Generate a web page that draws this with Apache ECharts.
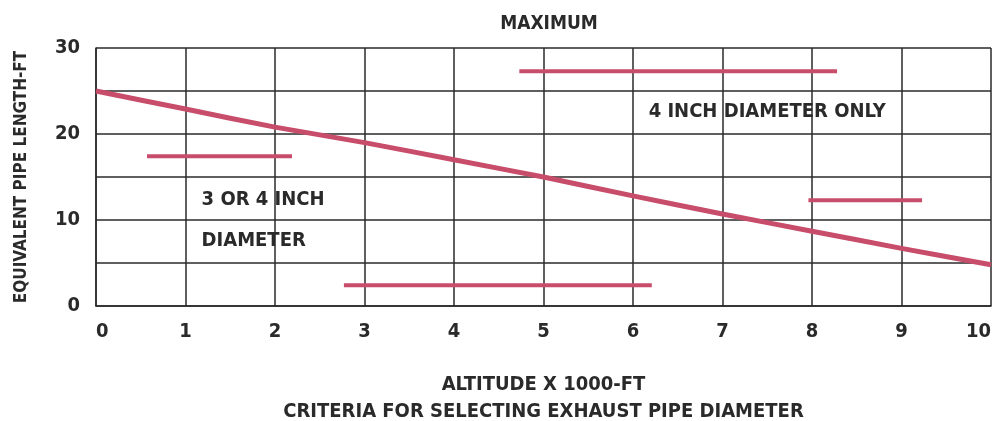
<!DOCTYPE html>
<html>
<head>
<meta charset="utf-8">
<script src="https://cdn.jsdelivr.net/npm/echarts@6/dist/echarts.min.js"></script>
<style>
html,body{margin:0;padding:0;background:#fff;}
#c{width:992px;height:421px;}
</style>
</head>
<body>
<div id="c"></div>
<script>
// Altitude (x1000 ft) tick values
var xTicks = [0,1,2,3,4,5,6,7,8,9,10];
// Maximum equivalent pipe length curve (grid units, row = 5)
var maxLine = [25.0, 22.9, 20.8, 19.0, 17.0, 15.0, 12.8, 10.7, 8.7, 6.7, 4.8];
// Horizontal bars: [xStart, xEnd, y]
var bar1 = [0.57, 2.19, 17.4];
var bar2 = [2.77, 6.21, 2.4];
var bar3 = [4.73, 8.28, 27.3];
var bar4 = [7.96, 9.23, 12.3];
// Annotations: [x, y, text, align]
var notes = [
  [7.5, 22.6, '4 INCH DIAMETER ONLY', 'center'],
  [1.18, 12.3, '3 OR 4 INCH', 'left'],
  [1.18, 7.6, 'DIAMETER', 'left']
];
var titleText = 'MAXIMUM';
var xName = 'ALTITUDE X 1000-FT\nCRITERIA FOR SELECTING EXHAUST PIPE DIAMETER';
var yName = 'EQUIVALENT PIPE LENGTH-FT';

var FONT = '"DejaVu Sans Condensed","Liberation Sans Narrow",sans-serif';
var RED = '#c84d6b';
var INK = '#2a2a2a';

function seg(b){ return [[b[0], b[2]], [b[1], b[2]]]; }

var chart = echarts.init(document.getElementById('c'));
var series = [{
  type: 'line',
  data: xTicks.map(function(x,i){ return [x, maxLine[i]]; }),
  symbol: 'none',
  smooth: 0.2,
  lineStyle: {color: RED, width: 5},
  z: 3
}];
[bar1, bar2, bar3, bar4].forEach(function(b){
  series.push({type:'line', data: seg(b), symbol:'none', lineStyle:{color: RED, width: 4}, z: 3});
});
series.push({
  type: 'scatter',
  symbolSize: 0,
  silent: true,
  data: notes.map(function(n){ return {value:[n[0], n[1]], label:{show:true, formatter:n[2], position: n[3]==='left' ? 'right' : 'inside', distance: 0, align: n[3]}}; }),
  label: {color: INK, fontFamily: FONT, fontWeight: 'bold', fontSize: 20, opacity: 1},
  itemStyle: {opacity: 1},
  z: 4
});

chart.setOption({
  animation: false,
  backgroundColor: '#fff',
  title: {
    text: titleText, left: 544, top: 10, textAlign: 'center',
    textStyle: {fontFamily: FONT, fontWeight: 'bold', fontSize: 19, color: INK}
  },
  grid: {left: 96, right: 1, top: 48, bottom: 115, outerBoundsMode: 'none', containLabel: false},
  xAxis: {
    type: 'value', min: 0, max: 10, interval: 1,
    name: xName, nameLocation: 'middle', nameGap: 65,
    nameTextStyle: {fontFamily: FONT, fontWeight: 'bold', fontSize: 20, color: INK, lineHeight: 27},
    axisLine: {show: true, lineStyle: {color: INK, width: 1.5}},
    axisTick: {show: false},
    splitLine: {show: true, lineStyle: {color: INK, width: 1.5}},
    axisLabel: {margin: 16, fontFamily: FONT, fontWeight: 'bold', fontSize: 20, color: INK,
      alignMinLabel: 'left', alignMaxLabel: 'right'}
  },
  yAxis: {
    type: 'value', min: 0, max: 30, interval: 5,
    name: yName, nameLocation: 'middle', nameGap: 66, nameRotate: 90,
    nameTextStyle: {fontFamily: FONT, fontWeight: 'bold', fontSize: 17, color: INK},
    axisLine: {show: true, lineStyle: {color: INK, width: 1.5}},
    axisTick: {show: false},
    splitLine: {show: true, lineStyle: {color: INK, width: 1.5}},
    axisLabel: {margin: 16, fontFamily: FONT, fontWeight: 'bold', fontSize: 20, color: INK,
      formatter: function(v){ return v % 10 === 0 ? String(v) : ''; }}
  },
  series: series
});
</script>
</body>
</html>
